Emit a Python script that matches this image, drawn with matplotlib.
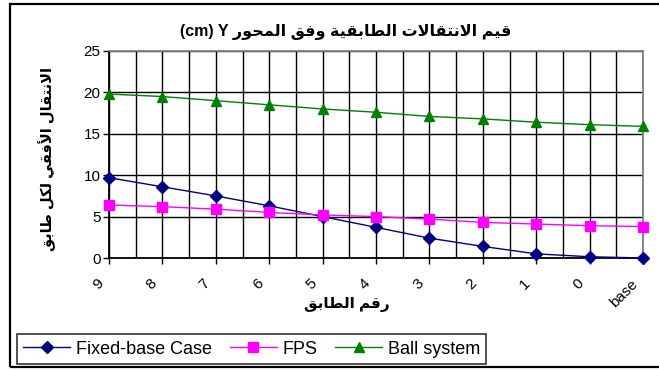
import matplotlib
matplotlib.use("Agg")
import matplotlib.pyplot as plt
from matplotlib.patches import Rectangle
from matplotlib.transforms import ScaledTranslation

# ---- data ----
floor_labels = ['9', '8', '7', '6', '5', '4', '3', '2', '1', '0', 'base']
fixed_base = [9.7, 8.6, 7.5, 6.3, 5.0, 3.7, 2.4, 1.4, 0.5, 0.15, 0.0]
fps = [6.4, 6.2, 5.9, 5.5, 5.2, 5.0, 4.7, 4.3, 4.1, 3.9, 3.8]
ball_system = [19.8, 19.5, 19.0, 18.5, 18.0, 17.6, 17.1, 16.8, 16.4, 16.1, 15.9]

title_ar = 'قيم الانتقالات الطابقية وفق المحور'
title_lat = '(cm) Y '
ylabel_ar = 'الانتقال الأفقي لكل طابق'
xlabel_ar = 'رقم الطابق'

# ---- minimal Arabic contextual shaping (isolated, final, initial, medial) ----
FORMS = {
    'ا': ('\uFE8D', '\uFE8E', None, None),
    'أ': ('\uFE83', '\uFE84', None, None),
    'ب': ('\uFE8F', '\uFE90', '\uFE91', '\uFE92'),
    'ة': ('\uFE93', '\uFE94', None, None),
    'ت': ('\uFE95', '\uFE96', '\uFE97', '\uFE98'),
    'ح': ('\uFEA1', '\uFEA2', '\uFEA3', '\uFEA4'),
    'ر': ('\uFEAD', '\uFEAE', None, None),
    'ط': ('\uFEC1', '\uFEC2', '\uFEC3', '\uFEC4'),
    'ف': ('\uFED1', '\uFED2', '\uFED3', '\uFED4'),
    'ق': ('\uFED5', '\uFED6', '\uFED7', '\uFED8'),
    'ك': ('\uFED9', '\uFEDA', '\uFEDB', '\uFEDC'),
    'ل': ('\uFEDD', '\uFEDE', '\uFEDF', '\uFEE0'),
    'م': ('\uFEE1', '\uFEE2', '\uFEE3', '\uFEE4'),
    'ن': ('\uFEE5', '\uFEE6', '\uFEE7', '\uFEE8'),
    'و': ('\uFEED', '\uFEEE', None, None),
    'ي': ('\uFEF1', '\uFEF2', '\uFEF3', '\uFEF4'),
}
LAM_ALEF = {
    'ا': ('\uFEFB', '\uFEFC', None, None),
    'أ': ('\uFEF7', '\uFEF8', None, None),
}


def shape(text):
    units = []
    i = 0
    while i < len(text):
        c = text[i]
        if c == 'ل' and i + 1 < len(text) and text[i + 1] in LAM_ALEF:
            units.append(LAM_ALEF[text[i + 1]])
            i += 2
        else:
            units.append(FORMS.get(c, c))
            i += 1
    out = []
    for k, u in enumerate(units):
        if isinstance(u, str):
            out.append(u)
            continue
        prev = units[k - 1] if k > 0 else None
        nxt = units[k + 1] if k + 1 < len(units) else None
        join_prev = isinstance(prev, tuple) and prev[2] is not None
        join_next = u[2] is not None and isinstance(nxt, tuple)
        if join_prev and join_next:
            out.append(u[3])
        elif join_prev:
            out.append(u[1])
        elif join_next:
            out.append(u[2])
        else:
            out.append(u[0])
    return ''.join(out)


def visual(text):
    return shape(text)[::-1]


FAM = ['Liberation Sans', 'DejaVu Sans']
plt.rcParams['font.family'] = FAM

W, H = 659, 370
fig = plt.figure(figsize=(W / 100, H / 100), dpi=100)
fig.patch.set_facecolor('white')

L, R, T, B = 109, 643, 51, 258
ax = fig.add_axes([L / W, 1 - B / H, (R - L) / W, (B - T) / H])

x = list(range(len(floor_labels)))
ax.plot(x, fixed_base, color='#000080', lw=1.0, marker='D', ms=6,
        label='Fixed-base Case', zorder=5, clip_on=False)
ax.plot(x, fps, color='#FF00FF', lw=1.0, marker='s', ms=6.5,
        label='FPS', zorder=5, clip_on=False)
ax.plot(x, ball_system, color='#008000', lw=1.0, marker='^', ms=7.5,
        label='Ball system', zorder=5, clip_on=False)

ax.set_xlim(0, len(floor_labels) - 1)
ax.set_ylim(0, 25)
ax.set_yticks(range(0, 26, 5))
ax.set_xticks(x)
ax.set_xticks([v + 0.5 for v in x[:-1]], minor=True)
ax.set_xticklabels(floor_labels, rotation=45, ha='right', va='center',
                   rotation_mode='anchor', fontsize=11, family=FAM)
ax.tick_params(axis='x', which='major', length=4, width=1, color='black',
               pad=13, labelsize=11)
ax.tick_params(axis='x', which='minor', length=0)
ax.tick_params(axis='y', length=4, width=1, color='black', labelsize=11, pad=2)
shift = ScaledTranslation(-8 / 100, 0, fig.dpi_scale_trans)
for lab in ax.get_xticklabels():
    lab.set_transform(lab.get_transform() + shift)

ax.grid(True, which='major', axis='both', color='black', lw=1.0, zorder=0)
ax.grid(True, which='minor', axis='x', color='black', lw=1.0, zorder=0)
ax.set_axisbelow(True)

for side in ('left', 'bottom'):
    ax.spines[side].set_color('black')
    ax.spines[side].set_linewidth(1.3)
for side in ('top', 'right'):
    ax.spines[side].set_color('#808080')
    ax.spines[side].set_linewidth(1.3)

fig.text(346 / W, 1 - 32 / H, title_lat + visual(title_ar), ha='center',
         va='center', fontsize=11.5, fontweight='bold', family=FAM)
fig.text(47 / W, 1 - 159 / H, visual(ylabel_ar), ha='center', va='center',
         rotation=90, fontsize=10.5, fontweight='bold', family=FAM)
fig.text(347 / W, 1 - 305 / H, visual(xlabel_ar), ha='center', va='center',
         fontsize=11, fontweight='bold', family=FAM)

leg = fig.legend(loc='lower left', bbox_to_anchor=(17 / W, 1 - 364 / H),
                 ncol=3, frameon=True, fancybox=False, fontsize=13,
                 handlelength=2.6, handletextpad=0.3, columnspacing=1.0,
                 borderpad=0.35, borderaxespad=0, edgecolor='black')
leg.get_frame().set_linewidth(1.2)

# outer chart border
fig.patches.append(Rectangle((10 / W, 1 - 367 / H), 700 / W, 363 / H,
                             transform=fig.transFigure, fill=False,
                             edgecolor='black', lw=1.6, clip_on=False))

fig.savefig('out.png', dpi=100)
